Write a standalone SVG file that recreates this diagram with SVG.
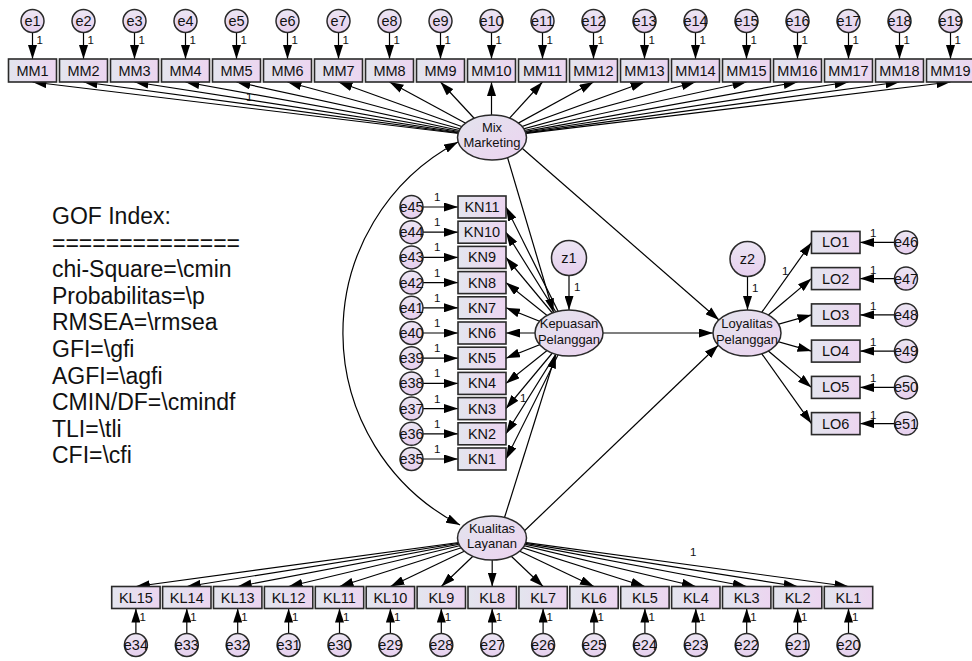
<svg xmlns="http://www.w3.org/2000/svg" width="972" height="661" viewBox="0 0 972 661">
<defs>
  <linearGradient id="gBox" x1="0" y1="0" x2="1" y2="0">
    <stop offset="0" stop-color="#e3e5ee"/>
    <stop offset="1" stop-color="#ecd5f0"/>
  </linearGradient>
  <linearGradient id="gCirc" x1="0" y1="0" x2="0" y2="1">
    <stop offset="0" stop-color="#ece6f3"/>
    <stop offset="1" stop-color="#e6cfee"/>
  </linearGradient>
  <linearGradient id="gEll" x1="0" y1="0" x2="1" y2="1">
    <stop offset="0" stop-color="#e3e4ed"/>
    <stop offset="1" stop-color="#ecd3f0"/>
  </linearGradient>
  <marker id="arr" viewBox="0 0 14 9" refX="14" refY="4.5" markerWidth="14" markerHeight="9" markerUnits="userSpaceOnUse" orient="auto-start-reverse">
    <path d="M0,0 L14,4.5 L0,9 z" fill="#000"/>
  </marker>
</defs>
<style>
  text { font-family: "Liberation Sans", Arial, sans-serif; fill: #111; }
  .box { fill: url(#gBox); stroke: #2a2a2a; stroke-width: 1.6; }
  .err { fill: url(#gCirc); stroke: #2a2a2a; stroke-width: 1.5; }
  .lat { fill: url(#gEll); stroke: #2a2a2a; stroke-width: 1.5; }
  .bl { font-size: 14.5px; text-anchor: middle; }
  .el { font-size: 14.5px; text-anchor: middle; }
  .ll { font-size: 13px; text-anchor: middle; }
  .one { font-size: 11.5px; }
  .lk { stroke: #000; stroke-width: 1.2; fill: none; marker-end: url(#arr); }
  .cov { stroke: #000; stroke-width: 1.2; fill: none; marker-start: url(#arr); marker-end: url(#arr); }
  .gof { font-size: 23px; }
</style>
<rect width="972" height="661" fill="#fff"/>

<!-- paths and loadings -->
<g id="connectors">
  <!-- Mix Marketing -> MM items -->
  <line class="lk" x1="492" y1="137.5" x2="32.5" y2="82"/>
  <line class="lk" x1="492" y1="137.5" x2="83.5" y2="82"/>
  <line class="lk" x1="492" y1="137.5" x2="134.5" y2="82"/>
  <line class="lk" x1="492" y1="137.5" x2="185.5" y2="82"/>
  <line class="lk" x1="492" y1="137.5" x2="236.5" y2="82"/>
  <line class="lk" x1="492" y1="137.5" x2="287.5" y2="82"/>
  <line class="lk" x1="492" y1="137.5" x2="338.5" y2="82"/>
  <line class="lk" x1="492" y1="137.5" x2="389.5" y2="82"/>
  <line class="lk" x1="492" y1="137.5" x2="440.5" y2="82"/>
  <line class="lk" x1="491.5" y1="137.5" x2="491.5" y2="82"/>
  <line class="lk" x1="492" y1="137.5" x2="542.5" y2="82"/>
  <line class="lk" x1="492" y1="137.5" x2="593.5" y2="82"/>
  <line class="lk" x1="492" y1="137.5" x2="644.5" y2="82"/>
  <line class="lk" x1="492" y1="137.5" x2="695.5" y2="82"/>
  <line class="lk" x1="492" y1="137.5" x2="746.5" y2="82"/>
  <line class="lk" x1="492" y1="137.5" x2="797.5" y2="82"/>
  <line class="lk" x1="492" y1="137.5" x2="848.5" y2="82"/>
  <line class="lk" x1="492" y1="137.5" x2="899.5" y2="82"/>
  <line class="lk" x1="492" y1="137.5" x2="950.5" y2="82"/>
  <text class="one" x="246" y="101">1</text>

  <!-- error terms -> MM items -->
  <line class="lk" x1="32.5" y1="32.5" x2="32.5" y2="59"/>
  <line class="lk" x1="83.5" y1="32.5" x2="83.5" y2="59"/>
  <line class="lk" x1="134.5" y1="32.5" x2="134.5" y2="59"/>
  <line class="lk" x1="185.5" y1="32.5" x2="185.5" y2="59"/>
  <line class="lk" x1="236.5" y1="32.5" x2="236.5" y2="59"/>
  <line class="lk" x1="287.5" y1="32.5" x2="287.5" y2="59"/>
  <line class="lk" x1="338.5" y1="32.5" x2="338.5" y2="59"/>
  <line class="lk" x1="389.5" y1="32.5" x2="389.5" y2="59"/>
  <line class="lk" x1="440.5" y1="32.5" x2="440.5" y2="59"/>
  <line class="lk" x1="491.5" y1="32.5" x2="491.5" y2="59"/>
  <line class="lk" x1="542.5" y1="32.5" x2="542.5" y2="59"/>
  <line class="lk" x1="593.5" y1="32.5" x2="593.5" y2="59"/>
  <line class="lk" x1="644.5" y1="32.5" x2="644.5" y2="59"/>
  <line class="lk" x1="695.5" y1="32.5" x2="695.5" y2="59"/>
  <line class="lk" x1="746.5" y1="32.5" x2="746.5" y2="59"/>
  <line class="lk" x1="797.5" y1="32.5" x2="797.5" y2="59"/>
  <line class="lk" x1="848.5" y1="32.5" x2="848.5" y2="59"/>
  <line class="lk" x1="899.5" y1="32.5" x2="899.5" y2="59"/>
  <line class="lk" x1="950.5" y1="32.5" x2="950.5" y2="59"/>
  <text class="one" x="36.5" y="43.5">1</text>
  <text class="one" x="87.5" y="43.5">1</text>
  <text class="one" x="138.5" y="43.5">1</text>
  <text class="one" x="189.5" y="43.5">1</text>
  <text class="one" x="240.5" y="43.5">1</text>
  <text class="one" x="291.5" y="43.5">1</text>
  <text class="one" x="342.5" y="43.5">1</text>
  <text class="one" x="393.5" y="43.5">1</text>
  <text class="one" x="444.5" y="43.5">1</text>
  <text class="one" x="495.5" y="43.5">1</text>
  <text class="one" x="546.5" y="43.5">1</text>
  <text class="one" x="597.5" y="43.5">1</text>
  <text class="one" x="648.5" y="43.5">1</text>
  <text class="one" x="699.5" y="43.5">1</text>
  <text class="one" x="750.5" y="43.5">1</text>
  <text class="one" x="801.5" y="43.5">1</text>
  <text class="one" x="852.5" y="43.5">1</text>
  <text class="one" x="903.5" y="43.5">1</text>
  <text class="one" x="954.5" y="43.5">1</text>

  <!-- Kepuasan Pelanggan -> KN items -->
  <line class="lk" x1="569" y1="333" x2="506" y2="207"/>
  <line class="lk" x1="569" y1="333" x2="506" y2="232.2"/>
  <line class="lk" x1="569" y1="333" x2="506" y2="257.4"/>
  <line class="lk" x1="569" y1="333" x2="506" y2="282.6"/>
  <line class="lk" x1="569" y1="333" x2="506" y2="307.8"/>
  <line class="lk" x1="569" y1="333" x2="506" y2="333"/>
  <line class="lk" x1="569" y1="333" x2="506" y2="358.2"/>
  <line class="lk" x1="569" y1="333" x2="506" y2="383.4"/>
  <line class="lk" x1="569" y1="333" x2="506" y2="408.6"/>
  <line class="lk" x1="569" y1="333" x2="506" y2="433.8"/>
  <line class="lk" x1="569" y1="333" x2="506" y2="459"/>
  <text class="one" x="520" y="402">1</text>

  <!-- error terms -> KN items -->
  <line class="lk" x1="423" y1="207" x2="458" y2="207"/>
  <line class="lk" x1="423" y1="232.2" x2="458" y2="232.2"/>
  <line class="lk" x1="423" y1="257.4" x2="458" y2="257.4"/>
  <line class="lk" x1="423" y1="282.6" x2="458" y2="282.6"/>
  <line class="lk" x1="423" y1="307.8" x2="458" y2="307.8"/>
  <line class="lk" x1="423" y1="333" x2="458" y2="333"/>
  <line class="lk" x1="423" y1="358.2" x2="458" y2="358.2"/>
  <line class="lk" x1="423" y1="383.4" x2="458" y2="383.4"/>
  <line class="lk" x1="423" y1="408.6" x2="458" y2="408.6"/>
  <line class="lk" x1="423" y1="433.8" x2="458" y2="433.8"/>
  <line class="lk" x1="423" y1="459" x2="458" y2="459"/>
  <text class="one" x="434" y="201">1</text>
  <text class="one" x="434" y="226.2">1</text>
  <text class="one" x="434" y="251.4">1</text>
  <text class="one" x="434" y="276.6">1</text>
  <text class="one" x="434" y="301.8">1</text>
  <text class="one" x="434" y="327">1</text>
  <text class="one" x="434" y="352.2">1</text>
  <text class="one" x="434" y="377.4">1</text>
  <text class="one" x="434" y="402.6">1</text>
  <text class="one" x="434" y="427.8">1</text>
  <text class="one" x="434" y="453">1</text>

  <!-- Loyalitas Pelanggan -> LO items -->
  <line class="lk" x1="747" y1="333" x2="811.5" y2="242.4"/>
  <line class="lk" x1="747" y1="333" x2="811.5" y2="278.6"/>
  <line class="lk" x1="747" y1="333" x2="811.5" y2="314.9"/>
  <line class="lk" x1="747" y1="333" x2="811.5" y2="351.1"/>
  <line class="lk" x1="747" y1="333" x2="811.5" y2="387.4"/>
  <line class="lk" x1="747" y1="333" x2="811.5" y2="423.6"/>
  <text class="one" x="782" y="275">1</text>

  <!-- error terms -> LO items -->
  <line class="lk" x1="894.5" y1="242.4" x2="860" y2="242.4"/>
  <line class="lk" x1="894.5" y1="278.6" x2="860" y2="278.6"/>
  <line class="lk" x1="894.5" y1="314.9" x2="860" y2="314.9"/>
  <line class="lk" x1="894.5" y1="351.1" x2="860" y2="351.1"/>
  <line class="lk" x1="894.5" y1="387.4" x2="860" y2="387.4"/>
  <line class="lk" x1="894.5" y1="423.6" x2="860" y2="423.6"/>
  <text class="one" x="870" y="237.4">1</text>
  <text class="one" x="870" y="273.6">1</text>
  <text class="one" x="870" y="309.9">1</text>
  <text class="one" x="870" y="346.1">1</text>
  <text class="one" x="870" y="382.4">1</text>
  <text class="one" x="870" y="418.6">1</text>

  <!-- Kualitas Layanan -> KL items -->
  <line class="lk" x1="492" y1="538" x2="135.9" y2="586.5"/>
  <line class="lk" x1="492" y1="538" x2="186.8" y2="586.5"/>
  <line class="lk" x1="492" y1="538" x2="237.7" y2="586.5"/>
  <line class="lk" x1="492" y1="538" x2="288.6" y2="586.5"/>
  <line class="lk" x1="492" y1="538" x2="339.5" y2="586.5"/>
  <line class="lk" x1="492" y1="538" x2="390.4" y2="586.5"/>
  <line class="lk" x1="492" y1="538" x2="441.3" y2="586.5"/>
  <line class="lk" x1="492.2" y1="538" x2="492.2" y2="586.5"/>
  <line class="lk" x1="492" y1="538" x2="543.1" y2="586.5"/>
  <line class="lk" x1="492" y1="538" x2="594" y2="586.5"/>
  <line class="lk" x1="492" y1="538" x2="644.9" y2="586.5"/>
  <line class="lk" x1="492" y1="538" x2="695.8" y2="586.5"/>
  <line class="lk" x1="492" y1="538" x2="746.7" y2="586.5"/>
  <line class="lk" x1="492" y1="538" x2="797.6" y2="586.5"/>
  <line class="lk" x1="492" y1="538" x2="848.5" y2="586.5"/>
  <text class="one" x="690" y="556">1</text>

  <!-- error terms -> KL items -->
  <line class="lk" x1="135.9" y1="633.5" x2="135.9" y2="608.5"/>
  <line class="lk" x1="186.8" y1="633.5" x2="186.8" y2="608.5"/>
  <line class="lk" x1="237.7" y1="633.5" x2="237.7" y2="608.5"/>
  <line class="lk" x1="288.6" y1="633.5" x2="288.6" y2="608.5"/>
  <line class="lk" x1="339.5" y1="633.5" x2="339.5" y2="608.5"/>
  <line class="lk" x1="390.4" y1="633.5" x2="390.4" y2="608.5"/>
  <line class="lk" x1="441.3" y1="633.5" x2="441.3" y2="608.5"/>
  <line class="lk" x1="492.2" y1="633.5" x2="492.2" y2="608.5"/>
  <line class="lk" x1="543.1" y1="633.5" x2="543.1" y2="608.5"/>
  <line class="lk" x1="594" y1="633.5" x2="594" y2="608.5"/>
  <line class="lk" x1="644.9" y1="633.5" x2="644.9" y2="608.5"/>
  <line class="lk" x1="695.8" y1="633.5" x2="695.8" y2="608.5"/>
  <line class="lk" x1="746.7" y1="633.5" x2="746.7" y2="608.5"/>
  <line class="lk" x1="797.6" y1="633.5" x2="797.6" y2="608.5"/>
  <line class="lk" x1="848.5" y1="633.5" x2="848.5" y2="608.5"/>
  <text class="one" x="139.4" y="621">1</text>
  <text class="one" x="190.3" y="621">1</text>
  <text class="one" x="241.2" y="621">1</text>
  <text class="one" x="292.1" y="621">1</text>
  <text class="one" x="343" y="621">1</text>
  <text class="one" x="393.9" y="621">1</text>
  <text class="one" x="444.8" y="621">1</text>
  <text class="one" x="495.7" y="621">1</text>
  <text class="one" x="546.6" y="621">1</text>
  <text class="one" x="597.5" y="621">1</text>
  <text class="one" x="648.4" y="621">1</text>
  <text class="one" x="699.3" y="621">1</text>
  <text class="one" x="750.2" y="621">1</text>
  <text class="one" x="801.1" y="621">1</text>
  <text class="one" x="852" y="621">1</text>

  <!-- structural paths -->
  <line class="lk" x1="505" y1="149" x2="553.5" y2="312.5"/>
  <line class="lk" x1="502" y1="525.5" x2="555.8" y2="354.3"/>
  <line class="lk" x1="515" y1="142" x2="719" y2="320"/>
  <line class="lk" x1="603" y1="333" x2="713" y2="333"/>
  <line class="lk" x1="518" y1="537" x2="718.2" y2="345.2"/>

  <!-- disturbances -->
  <line class="lk" x1="569" y1="275.5" x2="569" y2="310"/>
  <text class="one" x="574" y="291">1</text>
  <line class="lk" x1="747.5" y1="276.5" x2="747.5" y2="310"/>
  <text class="one" x="752" y="292">1</text>

  <!-- covariance between exogenous constructs -->
  <path class="cov" d="M458,142 A216,216 0 0 0 460,525"/>
</g>

<!-- latent constructs -->
<g id="MixMarketing">
  <ellipse class="lat" cx="492" cy="137.5" rx="34.5" ry="22.5"/>
  <text class="ll" x="492" y="132">Mix</text>
  <text class="ll" x="492" y="147">Marketing</text>
</g>
<g id="KepuasanPelanggan">
  <ellipse class="lat" cx="569" cy="333" rx="34" ry="23"/>
  <text class="ll" x="569" y="328">Kepuasan</text>
  <text class="ll" x="569" y="343.5">Pelanggan</text>
</g>
<g id="LoyalitasPelanggan">
  <ellipse class="lat" cx="747" cy="333" rx="34" ry="23"/>
  <text class="ll" x="747" y="328">Loyalitas</text>
  <text class="ll" x="747" y="343.5">Pelanggan</text>
</g>
<g id="KualitasLayanan">
  <ellipse class="lat" cx="492" cy="538" rx="34.5" ry="22"/>
  <text class="ll" x="492" y="533">Kualitas</text>
  <text class="ll" x="492" y="548">Layanan</text>
</g>
<g id="z1">
  <circle class="err" cx="569" cy="258" r="17.5"/>
  <text class="bl" x="569" y="263">z1</text>
</g>
<g id="z2">
  <circle class="err" cx="747.5" cy="259" r="17.5"/>
  <text class="bl" x="747.5" y="264">z2</text>
</g>

<!-- Mix Marketing indicators -->
<g id="MM1"><rect class="box" x="8.5" y="59" width="48" height="23"/><text class="bl" x="32.5" y="75.5">MM1</text></g>
<g id="MM2"><rect class="box" x="59.5" y="59" width="48" height="23"/><text class="bl" x="83.5" y="75.5">MM2</text></g>
<g id="MM3"><rect class="box" x="110.5" y="59" width="48" height="23"/><text class="bl" x="134.5" y="75.5">MM3</text></g>
<g id="MM4"><rect class="box" x="161.5" y="59" width="48" height="23"/><text class="bl" x="185.5" y="75.5">MM4</text></g>
<g id="MM5"><rect class="box" x="212.5" y="59" width="48" height="23"/><text class="bl" x="236.5" y="75.5">MM5</text></g>
<g id="MM6"><rect class="box" x="263.5" y="59" width="48" height="23"/><text class="bl" x="287.5" y="75.5">MM6</text></g>
<g id="MM7"><rect class="box" x="314.5" y="59" width="48" height="23"/><text class="bl" x="338.5" y="75.5">MM7</text></g>
<g id="MM8"><rect class="box" x="365.5" y="59" width="48" height="23"/><text class="bl" x="389.5" y="75.5">MM8</text></g>
<g id="MM9"><rect class="box" x="416.5" y="59" width="48" height="23"/><text class="bl" x="440.5" y="75.5">MM9</text></g>
<g id="MM10"><rect class="box" x="467.5" y="59" width="48" height="23"/><text class="bl" x="491.5" y="75.5">MM10</text></g>
<g id="MM11"><rect class="box" x="518.5" y="59" width="48" height="23"/><text class="bl" x="542.5" y="75.5">MM11</text></g>
<g id="MM12"><rect class="box" x="569.5" y="59" width="48" height="23"/><text class="bl" x="593.5" y="75.5">MM12</text></g>
<g id="MM13"><rect class="box" x="620.5" y="59" width="48" height="23"/><text class="bl" x="644.5" y="75.5">MM13</text></g>
<g id="MM14"><rect class="box" x="671.5" y="59" width="48" height="23"/><text class="bl" x="695.5" y="75.5">MM14</text></g>
<g id="MM15"><rect class="box" x="722.5" y="59" width="48" height="23"/><text class="bl" x="746.5" y="75.5">MM15</text></g>
<g id="MM16"><rect class="box" x="773.5" y="59" width="48" height="23"/><text class="bl" x="797.5" y="75.5">MM16</text></g>
<g id="MM17"><rect class="box" x="824.5" y="59" width="48" height="23"/><text class="bl" x="848.5" y="75.5">MM17</text></g>
<g id="MM18"><rect class="box" x="875.5" y="59" width="48" height="23"/><text class="bl" x="899.5" y="75.5">MM18</text></g>
<g id="MM19"><rect class="box" x="926.5" y="59" width="48" height="23"/><text class="bl" x="950.5" y="75.5">MM19</text></g>

<!-- MM error terms -->
<g id="e1"><circle class="err" cx="32.5" cy="21" r="11.5"/><text class="el" x="32.5" y="26">e1</text></g>
<g id="e2"><circle class="err" cx="83.5" cy="21" r="11.5"/><text class="el" x="83.5" y="26">e2</text></g>
<g id="e3"><circle class="err" cx="134.5" cy="21" r="11.5"/><text class="el" x="134.5" y="26">e3</text></g>
<g id="e4"><circle class="err" cx="185.5" cy="21" r="11.5"/><text class="el" x="185.5" y="26">e4</text></g>
<g id="e5"><circle class="err" cx="236.5" cy="21" r="11.5"/><text class="el" x="236.5" y="26">e5</text></g>
<g id="e6"><circle class="err" cx="287.5" cy="21" r="11.5"/><text class="el" x="287.5" y="26">e6</text></g>
<g id="e7"><circle class="err" cx="338.5" cy="21" r="11.5"/><text class="el" x="338.5" y="26">e7</text></g>
<g id="e8"><circle class="err" cx="389.5" cy="21" r="11.5"/><text class="el" x="389.5" y="26">e8</text></g>
<g id="e9"><circle class="err" cx="440.5" cy="21" r="11.5"/><text class="el" x="440.5" y="26">e9</text></g>
<g id="e10"><circle class="err" cx="491.5" cy="21" r="11.5"/><text class="el" x="491.5" y="26">e10</text></g>
<g id="e11"><circle class="err" cx="542.5" cy="21" r="11.5"/><text class="el" x="542.5" y="26">e11</text></g>
<g id="e12"><circle class="err" cx="593.5" cy="21" r="11.5"/><text class="el" x="593.5" y="26">e12</text></g>
<g id="e13"><circle class="err" cx="644.5" cy="21" r="11.5"/><text class="el" x="644.5" y="26">e13</text></g>
<g id="e14"><circle class="err" cx="695.5" cy="21" r="11.5"/><text class="el" x="695.5" y="26">e14</text></g>
<g id="e15"><circle class="err" cx="746.5" cy="21" r="11.5"/><text class="el" x="746.5" y="26">e15</text></g>
<g id="e16"><circle class="err" cx="797.5" cy="21" r="11.5"/><text class="el" x="797.5" y="26">e16</text></g>
<g id="e17"><circle class="err" cx="848.5" cy="21" r="11.5"/><text class="el" x="848.5" y="26">e17</text></g>
<g id="e18"><circle class="err" cx="899.5" cy="21" r="11.5"/><text class="el" x="899.5" y="26">e18</text></g>
<g id="e19"><circle class="err" cx="950.5" cy="21" r="11.5"/><text class="el" x="950.5" y="26">e19</text></g>

<!-- Kepuasan indicators -->
<g id="KN11"><rect class="box" x="458" y="196" width="48" height="22"/><text class="bl" x="482" y="212">KN11</text></g>
<g id="KN10"><rect class="box" x="458" y="221.2" width="48" height="22"/><text class="bl" x="482" y="237.2">KN10</text></g>
<g id="KN9"><rect class="box" x="458" y="246.4" width="48" height="22"/><text class="bl" x="482" y="262.4">KN9</text></g>
<g id="KN8"><rect class="box" x="458" y="271.6" width="48" height="22"/><text class="bl" x="482" y="287.6">KN8</text></g>
<g id="KN7"><rect class="box" x="458" y="296.8" width="48" height="22"/><text class="bl" x="482" y="312.8">KN7</text></g>
<g id="KN6"><rect class="box" x="458" y="322" width="48" height="22"/><text class="bl" x="482" y="338">KN6</text></g>
<g id="KN5"><rect class="box" x="458" y="347.2" width="48" height="22"/><text class="bl" x="482" y="363.2">KN5</text></g>
<g id="KN4"><rect class="box" x="458" y="372.4" width="48" height="22"/><text class="bl" x="482" y="388.4">KN4</text></g>
<g id="KN3"><rect class="box" x="458" y="397.6" width="48" height="22"/><text class="bl" x="482" y="413.6">KN3</text></g>
<g id="KN2"><rect class="box" x="458" y="422.8" width="48" height="22"/><text class="bl" x="482" y="438.8">KN2</text></g>
<g id="KN1"><rect class="box" x="458" y="448" width="48" height="22"/><text class="bl" x="482" y="464">KN1</text></g>

<!-- KN error terms -->
<g id="e45"><circle class="err" cx="411.5" cy="207" r="11.5"/><text class="el" x="411.5" y="212">e45</text></g>
<g id="e44"><circle class="err" cx="411.5" cy="232.2" r="11.5"/><text class="el" x="411.5" y="237.2">e44</text></g>
<g id="e43"><circle class="err" cx="411.5" cy="257.4" r="11.5"/><text class="el" x="411.5" y="262.4">e43</text></g>
<g id="e42"><circle class="err" cx="411.5" cy="282.6" r="11.5"/><text class="el" x="411.5" y="287.6">e42</text></g>
<g id="e41"><circle class="err" cx="411.5" cy="307.8" r="11.5"/><text class="el" x="411.5" y="312.8">e41</text></g>
<g id="e40"><circle class="err" cx="411.5" cy="333" r="11.5"/><text class="el" x="411.5" y="338">e40</text></g>
<g id="e39"><circle class="err" cx="411.5" cy="358.2" r="11.5"/><text class="el" x="411.5" y="363.2">e39</text></g>
<g id="e38"><circle class="err" cx="411.5" cy="383.4" r="11.5"/><text class="el" x="411.5" y="388.4">e38</text></g>
<g id="e37"><circle class="err" cx="411.5" cy="408.6" r="11.5"/><text class="el" x="411.5" y="413.6">e37</text></g>
<g id="e36"><circle class="err" cx="411.5" cy="433.8" r="11.5"/><text class="el" x="411.5" y="438.8">e36</text></g>
<g id="e35"><circle class="err" cx="411.5" cy="459" r="11.5"/><text class="el" x="411.5" y="464">e35</text></g>

<!-- Loyalitas indicators -->
<g id="LO1"><rect class="box" x="811.5" y="231.4" width="48.5" height="22"/><text class="bl" x="835.75" y="247.4">LO1</text></g>
<g id="LO2"><rect class="box" x="811.5" y="267.6" width="48.5" height="22"/><text class="bl" x="835.75" y="283.6">LO2</text></g>
<g id="LO3"><rect class="box" x="811.5" y="303.9" width="48.5" height="22"/><text class="bl" x="835.75" y="319.9">LO3</text></g>
<g id="LO4"><rect class="box" x="811.5" y="340.1" width="48.5" height="22"/><text class="bl" x="835.75" y="356.1">LO4</text></g>
<g id="LO5"><rect class="box" x="811.5" y="376.4" width="48.5" height="22"/><text class="bl" x="835.75" y="392.4">LO5</text></g>
<g id="LO6"><rect class="box" x="811.5" y="412.6" width="48.5" height="22"/><text class="bl" x="835.75" y="428.6">LO6</text></g>

<!-- LO error terms -->
<g id="e46"><circle class="err" cx="906" cy="242.4" r="11.5"/><text class="el" x="906" y="247.4">e46</text></g>
<g id="e47"><circle class="err" cx="906" cy="278.6" r="11.5"/><text class="el" x="906" y="283.6">e47</text></g>
<g id="e48"><circle class="err" cx="906" cy="314.9" r="11.5"/><text class="el" x="906" y="319.9">e48</text></g>
<g id="e49"><circle class="err" cx="906" cy="351.1" r="11.5"/><text class="el" x="906" y="356.1">e49</text></g>
<g id="e50"><circle class="err" cx="906" cy="387.4" r="11.5"/><text class="el" x="906" y="392.4">e50</text></g>
<g id="e51"><circle class="err" cx="906" cy="423.6" r="11.5"/><text class="el" x="906" y="428.6">e51</text></g>

<!-- Kualitas Layanan indicators -->
<g id="KL15"><rect class="box" x="111.7" y="586.5" width="48.4" height="22"/><text class="bl" x="135.9" y="602.5">KL15</text></g>
<g id="KL14"><rect class="box" x="162.6" y="586.5" width="48.4" height="22"/><text class="bl" x="186.8" y="602.5">KL14</text></g>
<g id="KL13"><rect class="box" x="213.5" y="586.5" width="48.4" height="22"/><text class="bl" x="237.7" y="602.5">KL13</text></g>
<g id="KL12"><rect class="box" x="264.4" y="586.5" width="48.4" height="22"/><text class="bl" x="288.6" y="602.5">KL12</text></g>
<g id="KL11"><rect class="box" x="315.3" y="586.5" width="48.4" height="22"/><text class="bl" x="339.5" y="602.5">KL11</text></g>
<g id="KL10"><rect class="box" x="366.2" y="586.5" width="48.4" height="22"/><text class="bl" x="390.4" y="602.5">KL10</text></g>
<g id="KL9"><rect class="box" x="417.1" y="586.5" width="48.4" height="22"/><text class="bl" x="441.3" y="602.5">KL9</text></g>
<g id="KL8"><rect class="box" x="468" y="586.5" width="48.4" height="22"/><text class="bl" x="492.2" y="602.5">KL8</text></g>
<g id="KL7"><rect class="box" x="518.9" y="586.5" width="48.4" height="22"/><text class="bl" x="543.1" y="602.5">KL7</text></g>
<g id="KL6"><rect class="box" x="569.8" y="586.5" width="48.4" height="22"/><text class="bl" x="594" y="602.5">KL6</text></g>
<g id="KL5"><rect class="box" x="620.7" y="586.5" width="48.4" height="22"/><text class="bl" x="644.9" y="602.5">KL5</text></g>
<g id="KL4"><rect class="box" x="671.6" y="586.5" width="48.4" height="22"/><text class="bl" x="695.8" y="602.5">KL4</text></g>
<g id="KL3"><rect class="box" x="722.5" y="586.5" width="48.4" height="22"/><text class="bl" x="746.7" y="602.5">KL3</text></g>
<g id="KL2"><rect class="box" x="773.4" y="586.5" width="48.4" height="22"/><text class="bl" x="797.6" y="602.5">KL2</text></g>
<g id="KL1"><rect class="box" x="824.3" y="586.5" width="48.4" height="22"/><text class="bl" x="848.5" y="602.5">KL1</text></g>

<!-- KL error terms -->
<g id="e34"><circle class="err" cx="135.9" cy="645" r="11.5"/><text class="el" x="135.9" y="650">e34</text></g>
<g id="e33"><circle class="err" cx="186.8" cy="645" r="11.5"/><text class="el" x="186.8" y="650">e33</text></g>
<g id="e32"><circle class="err" cx="237.7" cy="645" r="11.5"/><text class="el" x="237.7" y="650">e32</text></g>
<g id="e31"><circle class="err" cx="288.6" cy="645" r="11.5"/><text class="el" x="288.6" y="650">e31</text></g>
<g id="e30"><circle class="err" cx="339.5" cy="645" r="11.5"/><text class="el" x="339.5" y="650">e30</text></g>
<g id="e29"><circle class="err" cx="390.4" cy="645" r="11.5"/><text class="el" x="390.4" y="650">e29</text></g>
<g id="e28"><circle class="err" cx="441.3" cy="645" r="11.5"/><text class="el" x="441.3" y="650">e28</text></g>
<g id="e27"><circle class="err" cx="492.2" cy="645" r="11.5"/><text class="el" x="492.2" y="650">e27</text></g>
<g id="e26"><circle class="err" cx="543.1" cy="645" r="11.5"/><text class="el" x="543.1" y="650">e26</text></g>
<g id="e25"><circle class="err" cx="594" cy="645" r="11.5"/><text class="el" x="594" y="650">e25</text></g>
<g id="e24"><circle class="err" cx="644.9" cy="645" r="11.5"/><text class="el" x="644.9" y="650">e24</text></g>
<g id="e23"><circle class="err" cx="695.8" cy="645" r="11.5"/><text class="el" x="695.8" y="650">e23</text></g>
<g id="e22"><circle class="err" cx="746.7" cy="645" r="11.5"/><text class="el" x="746.7" y="650">e22</text></g>
<g id="e21"><circle class="err" cx="797.6" cy="645" r="11.5"/><text class="el" x="797.6" y="650">e21</text></g>
<g id="e20"><circle class="err" cx="848.5" cy="645" r="11.5"/><text class="el" x="848.5" y="650">e20</text></g>

<!-- fit index caption -->
<g id="gof">
  <text class="gof" x="52" y="224">GOF Index:</text>
  <text class="gof" x="52" y="250.6">==============</text>
  <text class="gof" x="52" y="277.2">chi-Square=\cmin</text>
  <text class="gof" x="52" y="303.8">Probabilitas=\p</text>
  <text class="gof" x="52" y="330.4">RMSEA=\rmsea</text>
  <text class="gof" x="52" y="357">GFI=\gfi</text>
  <text class="gof" x="52" y="383.6">AGFI=\agfi</text>
  <text class="gof" x="52" y="410.2">CMIN/DF=\cmindf</text>
  <text class="gof" x="52" y="436.8">TLI=\tli</text>
  <text class="gof" x="52" y="463.4">CFI=\cfi</text>
</g>
</svg>
